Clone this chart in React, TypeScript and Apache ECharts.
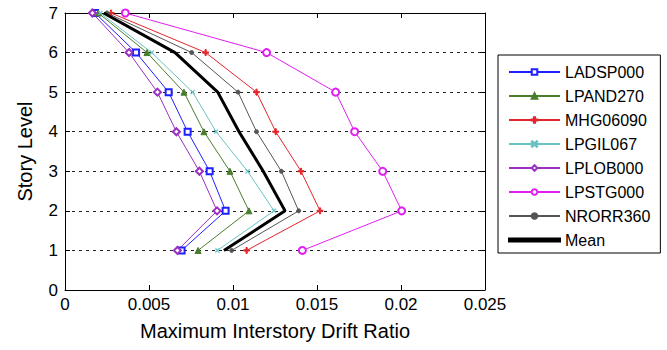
import React, { useEffect, useRef } from "react";
import * as echarts from "echarts";

const storyLevels = [1, 2, 3, 4, 5, 6, 7];
const seriesNames = ["LADSP000", "LPAND270", "MHG06090", "LPGIL067", "LPLOB000", "LPSTG000", "NRORR360", "Mean"];
const ladsp000 = [0.00694, 0.00956, 0.00861, 0.0073, 0.00617, 0.00423, 0.00179];
const lpand270 = [0.00792, 0.01095, 0.00982, 0.00827, 0.00708, 0.00488, 0.00198];
const mhg06090 = [0.01081, 0.01518, 0.01405, 0.01254, 0.0114, 0.00837, 0.00274];
const lpgil067 = [0.00907, 0.01244, 0.01087, 0.00899, 0.0076, 0.00516, 0.0021];
const lplob000 = [0.00669, 0.00905, 0.008, 0.00663, 0.0055, 0.00381, 0.00163];
const lpstg000 = [0.01413, 0.02004, 0.01891, 0.01724, 0.01611, 0.012, 0.00359];
const nrorr360 = [0.00992, 0.01391, 0.01288, 0.0114, 0.0103, 0.00754, 0.0025];
const meanDrift = [0.00946, 0.0131, 0.0118, 0.01036, 0.00909, 0.00655, 0.0023];
const xTicks = [0, 0.005, 0.01, 0.015, 0.02, 0.025];

const FONT = "'Liberation Sans', Arial, Helvetica, sans-serif";
const PLUS = "path://M4,0H6V4H10V6H6V10H4V6H0V4H4Z";
const CROSS = "path://M1,0L5,4L9,0L10,1L6,5L10,9L9,10L5,6L1,10L0,9L4,5L0,1Z";
const THICK_LINE = "path://M0,0H100V6H0Z";

const seriesDefs = [
  { data: ladsp000, color: "#1f1fff", symbol: "emptyRect", size: 6, width: 1 },
  { data: lpand270, color: "#4a7d2c", symbol: "triangle", size: 6, width: 1 },
  { data: mhg06090, color: "#e3262b", symbol: PLUS, size: 6, width: 1 },
  { data: lpgil067, color: "#6cc2c2", symbol: CROSS, size: 4, width: 1 },
  { data: lplob000, color: "#9b2fc2", symbol: "emptyDiamond", size: 7, width: 1 },
  { data: lpstg000, color: "#e01ff0", symbol: "emptyCircle", size: 7, width: 1 },
  { data: nrorr360, color: "#555555", symbol: "circle", size: 4, width: 1 },
  { data: meanDrift, color: "#000000", symbol: "none", size: 0, width: 3 },
];

export default function App() {
  const ref = useRef<HTMLDivElement>(null);
  useEffect(() => {
    document.body.style.margin = "0";
    if (!ref.current) return;
    const chart = echarts.init(ref.current, null, { renderer: "svg" });
    const series = seriesDefs.map((d, i) => ({
      name: seriesNames[i],
      type: "line",
      xAxisIndex: 0,
      yAxisIndex: 0,
      data: d.data.map((x, j) => [x, storyLevels[j]]),
      symbol: d.symbol,
      symbolSize: d.size,
      showSymbol: d.symbol !== "none",
      lineStyle: { color: d.color, width: d.width },
      itemStyle: { color: d.color, borderColor: d.color, borderWidth: 1 },
      emphasis: { disabled: true },
      z: i === 7 ? 3 : 2,
    }));
    const axisCommon = {
      axisLine: { show: true, onZero: false, lineStyle: { color: "#000", width: 1 } },
      axisTick: { show: true, inside: true, length: 5, lineStyle: { color: "#000" } },
    };
    chart.setOption({
      animation: false,
      backgroundColor: "#fff",
      textStyle: { fontFamily: FONT },
      grid: { left: 65, right: 182, top: 13, bottom: 60, containLabel: false },
      legend: {
        orient: "vertical",
        left: 498,
        top: 55,
        data: seriesNames.map((n, i) =>
          i === 7 ? { name: n, icon: THICK_LINE } : { name: n }
        ),
        backgroundColor: "#fff",
        borderColor: "#000",
        borderWidth: 1,
        padding: [9, 10, 5, 10],
        itemGap: 8,
        itemWidth: 51,
        itemHeight: 7,
        textStyle: { fontSize: 16, lineHeight: 16, color: "#000", fontFamily: FONT },
      },
      xAxis: [
        {
          type: "value",
          min: 0,
          max: 0.025,
          interval: 0.005,
          position: "bottom",
          ...axisCommon,
          axisLabel: {
            fontSize: 17,
            color: "#000",
            fontFamily: FONT,
            margin: 6,
            formatter: (v: number) => {
              const t = xTicks.find((k) => Math.abs(k - v) < 1e-9);
              return t === undefined ? "" : String(t);
            },
          },
          splitLine: { show: false },
          name: "Maximum Interstory Drift Ratio",
          nameLocation: "middle",
          nameGap: 31,
          nameTextStyle: { fontSize: 20, color: "#000", fontFamily: FONT },
        },
        {
          type: "value",
          min: 0,
          max: 0.025,
          interval: 0.005,
          position: "top",
          ...axisCommon,
          axisLabel: { show: false },
          splitLine: { show: false },
        },
      ],
      yAxis: [
        {
          type: "value",
          min: 0,
          max: 7,
          interval: 1,
          position: "left",
          ...axisCommon,
          axisLabel: { fontSize: 17, color: "#000", fontFamily: FONT, margin: 7 },
          splitLine: { show: true, lineStyle: { color: "#222", type: [3, 4], width: 1 } },
          name: "Story Level",
          nameLocation: "middle",
          nameGap: 30,
          nameTextStyle: { fontSize: 20, color: "#000", fontFamily: FONT },
        },
        {
          type: "value",
          min: 0,
          max: 7,
          interval: 1,
          position: "right",
          ...axisCommon,
          axisLabel: { show: false },
          splitLine: { show: false },
        },
      ],
      series,
    });
    return () => chart.dispose();
  }, []);
  return <div ref={ref} style={{ width: 667, height: 350 }} />;
}
